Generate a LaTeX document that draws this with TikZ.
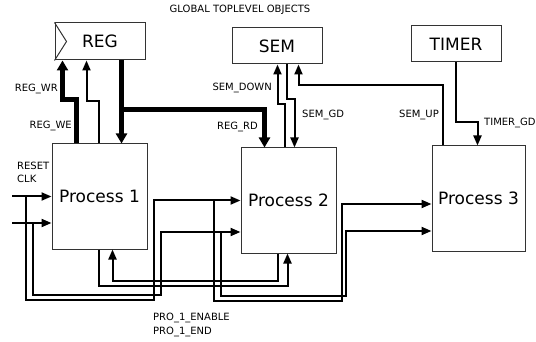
\documentclass[tikz,border=0pt]{standalone}
\usepackage{fontspec}
\setmainfont{DejaVu Sans}
\usetikzlibrary{arrows.meta}
\begin{document}
\begin{tikzpicture}[x=1pt, y=-1pt,
	box/.style={draw=black!80, line width=1pt, inner sep=0pt, font=\fontsize{17}{20}\selectfont},
	lbl/.style={inner sep=0pt, font=\fontsize{10}{12}\selectfont},
	sig/.style={line width=2pt, -{Triangle[length=10pt,width=8pt]}},
	bus/.style={line width=5pt, -{Triangle[length=10pt,width=11pt]}}]
					\useasboundingbox (0,0) rectangle (536,342);
					
					% Global objects
					\node[lbl] (GLOB) at (240,10) {GLOBAL TOPLEVEL OBJECTS};
					\node[box, minimum width=90pt, minimum height=37pt] (REG) at (100,41.5) {REG};
					\draw[black!80, line width=1pt] (REG.north west) -- ([xshift=12pt]REG.west) -- (REG.south west);
					\node[box, minimum width=90pt, minimum height=36pt] (SEM) at (277,46) {SEM};
					\node[box, minimum width=90pt, minimum height=36pt] (TIMER) at (456,44) {TIMER};
					
					% Processes
					\node[box, minimum width=95pt, minimum height=105pt] (P1) at (99.5,196.5) {Process 1};
					\node[box, minimum width=95pt, minimum height=105pt] (P2) at (288.5,200.5) {Process 2};
					\node[box, minimum width=93pt, minimum height=105pt] (P3) at (478.5,198.5) {Process 3};
					
					% Define coordinates
					\coordinate (RST) at (12,196.5);
					\coordinate (CLK) at (12,223);
					\coordinate (RD) at (122,110);
					
					% Register signals
					\draw[bus] ([xshift=25pt]P1.north west) -- ++(0,-44) -| ([xshift=8pt]REG.south west);
					\draw[sig] ([xshift=47pt]P1.north west) -- ++(0,-42) -| ([xshift=32pt]REG.south west);
					\draw[bus] ([xshift=67pt]REG.south west) -- ([xshift=70pt]P1.north west);
					\draw[bus] (RD) -| ([xshift=24pt]P2.north west);
					
					% Semaphore and timer signals
					\draw[sig] ([xshift=44pt]P2.north west) -- ++(0,-43) -| ([xshift=46pt]SEM.south west);
					\draw[sig] ([xshift=55pt]SEM.south west) -- ++(0,35) -| ([xshift=54pt]P2.north west);
					\draw[sig] ([xshift=11pt]P3.north west) -- ++(0,-60) -| ([xshift=67pt]SEM.south west);
					\draw[sig] (TIMER.south) -- ++(0,60) -| ([xshift=46pt]P3.north west);
					
					% Reset and clock
					\draw[sig] (RST) -- (P1.west);
					\draw[sig] (CLK) -- (CLK -| P1.west);
					\draw[sig] ([xshift=14pt]RST) |- ++(128,103.5) |- (P2.west);
					\draw[sig] ([xshift=-27pt]P2.west) |- ++(128,100.5) |- ([yshift=-5.5pt]P3.west);
					\draw[sig] ([xshift=21pt]CLK) |- ++(128,72) |- ([yshift=-31.5pt]P2.west);
					\draw[sig] ([xshift=-20pt, yshift=-31.5pt]P2.west) |- ++(125,64) |- ([yshift=-32.5pt]P3.west);
					
					% Process 1 handshake
					\draw[sig] ([xshift=37pt]P2.south west) -- ++(0,27) -| ([xshift=61pt]P1.south west);
					\draw[sig] ([xshift=47pt]P1.south west) -- ++(0,36) -| ([xshift=47pt]P2.south west);
					
					% Labels
					\node[lbl, anchor=east] (LWR) at (58,89) {REG\_WR};
					\node[lbl, anchor=east] (LWE) at (72,126) {REG\_WE};
					\node[lbl, anchor=east] (LRD) at (258,127) {REG\_RD};
					\node[lbl, anchor=east] (LDOWN) at (272,88) {SEM\_DOWN};
					\node[lbl, anchor=west] (LGD) at (302,115) {SEM\_GD};
					\node[lbl, anchor=east] (LUP) at (439,115) {SEM\_UP};
					\node[lbl, anchor=west] (LTGD) at (484,123) {TIMER\_GD};
					\node[lbl, anchor=west] (LRST) at (17,166) {RESET};
					\node[lbl, anchor=west] (LCLK) at (17,179) {CLK};
					\node[lbl, anchor=west] (LEN) at (153,318) {PRO\_1\_ENABLE};
					\node[lbl, anchor=west] (LEND) at (153,332) {PRO\_1\_END};
				\end{tikzpicture}
\end{document}
